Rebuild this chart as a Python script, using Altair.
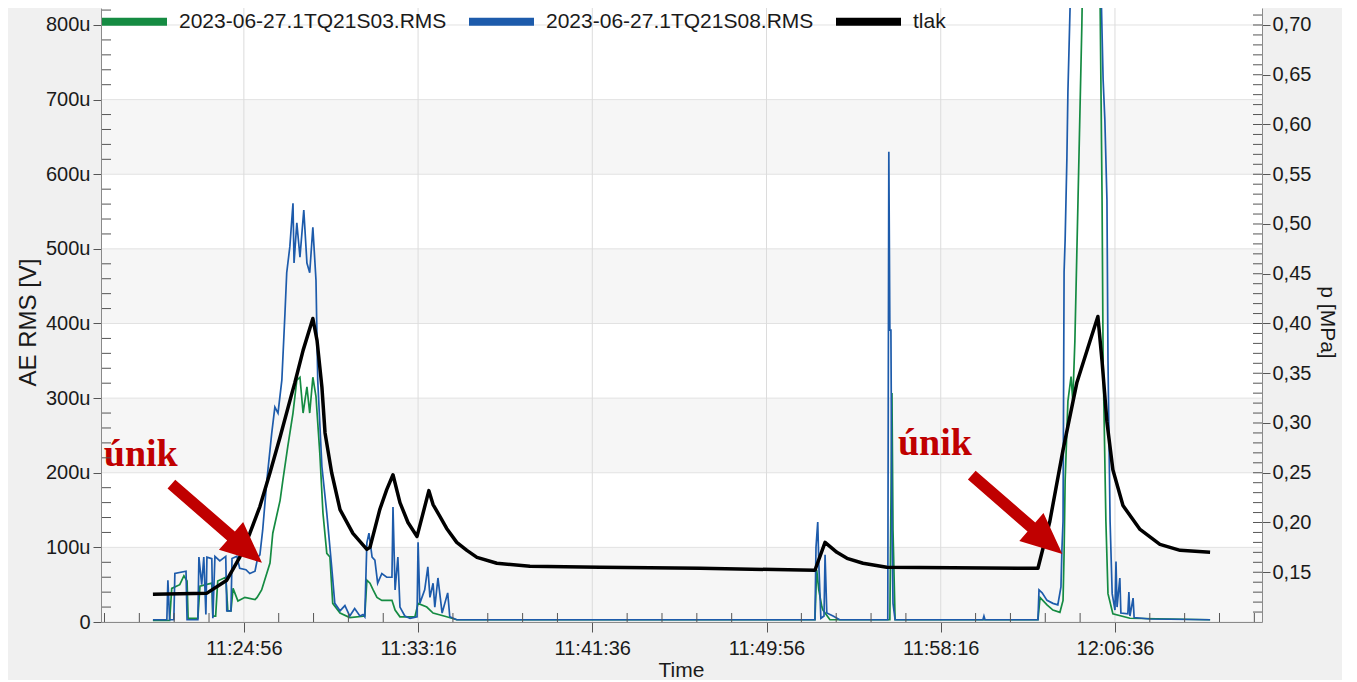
import altair as alt
import pandas as pd

# ---------------- data (times: minutes after 11:00, AE RMS in "u" = µV, pressure in MPa)
S03_NAME = "2023-06-27.1TQ21S03.RMS"
S08_NAME = "2023-06-27.1TQ21S08.RMS"
P_NAME = "tlak"

S03_t = [20.58, 21.39, 21.49, 21.87, 22.06, 22.21, 22.26, 22.73, 22.83, 23.40,
         23.45, 23.59, 23.69, 24.07, 24.17, 24.31, 24.41, 24.65, 24.98, 25.46,
         25.56, 25.79, 26.18, 26.32, 26.66, 26.80, 27.04, 27.28, 27.47, 27.61,
         27.76, 27.95, 28.09, 28.23, 28.38, 28.57, 28.71, 28.90, 29.05, 29.19,
         29.53, 30.00, 30.72, 30.82, 30.96, 31.11, 31.30, 31.54, 32.01, 32.16,
         32.40, 33.11, 33.26, 33.69, 33.98, 34.64, 35.12, 52.25, 52.34, 52.44,
         52.58, 52.63, 52.97, 55.84, 55.93, 55.98, 56.08, 62.92, 63.01, 63.35,
         63.63, 63.97, 64.11, 64.16, 64.21, 64.35, 64.50, 64.59, 64.69, 64.83,
         65.02, 65.41, 65.88, 65.98, 66.03, 66.17, 66.27, 66.50, 67.32, 71.15]
S03_v = [2, 2, 45, 50, 62, 55, 5, 5, 48, 52,
         8, 8, 55, 60, 15, 15, 45, 28, 33, 30,
         33, 43, 79, 119, 163, 190, 235, 280, 324, 328,
         280, 315, 280, 328, 302, 226, 146, 92, 87, 25,
         12, 6, 8, 56, 52, 43, 33, 29, 29, 16,
         7, 7, 25, 20, 12, 7, 3, 3, 70, 43,
         20, 16, 3, 3, 307, 123, 3, 3, 33, 23,
         16, 13, 29, 92, 189, 296, 329, 296, 377, 566,
         800, 1500, 850, 566, 350, 135, 38, 11, 5, 3]

S08_t = [20.58, 21.25, 21.30, 21.39, 21.59, 21.63, 22.16, 22.21, 22.73, 22.78,
         22.92, 23.02, 23.12, 23.16, 23.40, 23.45, 23.55, 23.79, 24.07, 24.12,
         24.31, 24.36, 24.60, 24.74, 25.03, 25.22, 25.46, 25.60, 25.70, 25.84,
         26.03, 26.27, 26.42, 26.56, 26.75, 26.90, 26.99, 27.13, 27.28, 27.33,
         27.47, 27.61, 27.80, 27.95, 28.09, 28.23, 28.38, 28.47, 28.67, 28.90,
         29.14, 29.29, 29.53, 29.77, 30.00, 30.24, 30.48, 30.63, 30.72, 30.82,
         30.91, 31.06, 31.20, 31.34, 31.54, 31.77, 32.01, 32.06, 32.16, 32.30,
         32.40, 32.64, 32.88, 33.21, 33.26, 33.35, 33.59, 33.74, 33.83, 33.98,
         34.07, 34.21, 34.41, 34.69, 34.79, 35.12, 41.96, 46.75, 52.25, 52.30,
         52.39, 52.44, 52.54, 52.68, 52.73, 52.82, 53.11, 53.44, 55.74, 55.79,
         55.84, 55.88, 55.93, 55.98, 56.08, 60.29, 60.33, 60.38, 62.92, 62.96,
         63.11, 63.35, 63.63, 63.87, 64.02, 64.07, 64.11, 64.16, 64.21, 64.30,
         64.35, 64.45, 65.17, 65.93, 66.03, 66.12, 66.22, 66.27, 66.36, 66.46,
         66.60, 66.65, 66.70, 66.84, 66.89, 67.22, 67.27, 67.32, 67.46, 67.51,
         68.27, 71.15]
S08_v = [3, 3, 56, 3, 3, 65, 68, 3, 3, 87,
         50, 87, 10, 87, 85, 5, 88, 82, 88, 15,
         15, 85, 88, 72, 70, 65, 68, 87, 90, 123,
         190, 253, 288, 280, 324, 414, 468, 503, 561, 481,
         535, 489, 552, 481, 468, 529, 458, 324, 208, 146,
         74, 25, 15, 22, 8, 18, 8, 10, 7, 106,
         119, 87, 83, 52, 65, 60, 60, 154, 43, 87,
         20, 8, 5, 7, 107, 25, 43, 74, 33, 52,
         20, 59, 12, 39, 7, 3, 3, 3, 3, 100,
         134, 79, 5, 8, 90, 12, 8, 3, 3, 630,
         391, 391, 123, 25, 3, 3, 8, 3, 3, 43,
         39, 29, 25, 23, 47, 100, 135, 469, 512, 620,
         711, 820, 1500, 850, 727, 673, 566, 350, 135, 38,
         16, 81, 20, 59, 12, 11, 40, 8, 32, 6,
         4, 3]

P_t = [20.58, 23.16, 24.12, 24.74, 25.22, 25.70, 26.18, 26.66, 27.23, 27.37,
       27.76, 28.23, 28.43, 28.66, 28.81, 29.14, 29.53, 30.15, 30.82, 30.96,
       31.44, 31.77, 32.06, 32.40, 32.78, 33.21, 33.78, 33.98, 34.31, 34.64,
       35.12, 35.60, 36.08, 37.04, 38.62, 41.96, 46.75, 52.25, 52.73, 53.30,
       53.78, 54.55, 55.69, 62.92, 63.49, 64.11, 64.78, 65.40, 65.79, 65.98,
       66.22, 66.50, 66.98, 67.80, 68.75, 69.71, 71.15]
P_v = [0.128, 0.129, 0.142, 0.165, 0.189, 0.216, 0.250, 0.286, 0.330, 0.340,
       0.373, 0.405, 0.383, 0.336, 0.290, 0.250, 0.213, 0.189, 0.173, 0.175,
       0.213, 0.233, 0.248, 0.220, 0.200, 0.186, 0.232, 0.218, 0.206, 0.194,
       0.180, 0.172, 0.165, 0.159, 0.156, 0.155, 0.154, 0.152, 0.180, 0.170,
       0.164, 0.159, 0.155, 0.154, 0.201, 0.273, 0.341, 0.382, 0.407, 0.362,
       0.301, 0.253, 0.217, 0.193, 0.178, 0.172, 0.170]

Y_TICKS = [0, 100, 200, 300, 400, 500, 600, 700, 800]
P_TICKS = [0.15, 0.2, 0.25, 0.3, 0.35, 0.4, 0.45, 0.5, 0.55, 0.6, 0.65, 0.7]
X_TICKS = ["11:24:56", "11:33:16", "11:41:36", "11:49:56", "11:58:16", "12:06:36"]
X_START, X_END = "11:18:06", "12:13:38"
BAND_LO = [0, 200, 400, 600]
BAND_HI = [100, 300, 500, 700]

ANN_TEXT = ["únik", "únik"]
ANN_T = [18.24, 56.22]
ANN_V = [209, 224]
ARROW_T = [23.64, 61.91]
ARROW_V = [132, 144]

# ---------------- helpers
DAY = "2023-06-27"
BASE = pd.Timestamp(DAY + " 11:00:00")


def mins_to_ts(mins):
    return [(BASE + pd.Timedelta(minutes=m)).round("s") for m in mins]


def dt(hms):
    h, m, s = (int(p) for p in hms.split(":"))
    return alt.DateTime(year=2023, month=6, date=27, hours=h, minutes=m, seconds=s)


W, H = 1161, 614
YMAX = 822.78
PMAX = 0.71708
FONT = "Liberation Sans"
TXT = "#1a1a1a"

df_ae = pd.concat([
    pd.DataFrame({"t": mins_to_ts(S03_t), "v": S03_v, "series": S03_NAME}),
    pd.DataFrame({"t": mins_to_ts(S08_t), "v": S08_v, "series": S08_NAME}),
])
df_p = pd.DataFrame({"t": mins_to_ts(P_t), "p": P_v, "series": P_NAME})
df_bands = pd.DataFrame({"lo": BAND_LO, "hi": BAND_HI})
df_yt = pd.DataFrame({"v": Y_TICKS})
df_xt = pd.DataFrame({"t": [pd.Timestamp(DAY + " " + s) for s in X_TICKS]})
df_txt = pd.DataFrame({"t": mins_to_ts(ANN_T), "v": ANN_V, "label": ANN_TEXT})
df_arr = pd.DataFrame({"t": mins_to_ts(ARROW_T), "v": ARROW_V})

# minor ticks
t0 = pd.Timestamp(DAY + " " + X_TICKS[0])
x_major = set(df_xt["t"])
minor_x = []
k = -4
while True:
    tt = t0 + pd.Timedelta(seconds=100 * k)
    if tt > pd.Timestamp(DAY + " " + X_END):
        break
    if tt >= pd.Timestamp(DAY + " " + X_START) and tt not in x_major:
        minor_x.append(tt)
    k += 1
df_mx = pd.DataFrame({"t": minor_x})
df_my = pd.DataFrame({"v": [v for v in range(20, 821, 20) if v % 100 != 0]})
df_mp = pd.DataFrame({"p": [round(0.10 + 0.01 * i, 2) for i in range(1, 62)]})

xsc = alt.Scale(domain=[dt(X_START), dt(X_END)])
ysc = alt.Scale(domain=[0, YMAX], nice=False, zero=False)
psc = alt.Scale(domain=[0.10, PMAX], nice=False, zero=False)
colsc = alt.Scale(domain=[S03_NAME, S08_NAME, P_NAME],
                  range=["#158b42", "#1d5bab", "#000000"])

X_AXIS = alt.Axis(
    values=[dt(s) for s in X_TICKS], format="%H:%M:%S", grid=False,
    tickSize=10, tickColor="#555555", domainColor="#8a8a8a",
    labelFont=FONT, labelFontSize=20, labelColor=TXT, labelPadding=6,
    labelFlush=False, labelOverlap=False, title="Time", titleFont=FONT,
    titleFontSize=21, titleFontWeight="normal", titleColor=TXT,
    titleX=580, titleY=48, titleAlign="center", titleBaseline="middle",
    zindex=1)


def X(field="t:T"):
    return alt.X(field, scale=xsc, axis=X_AXIS)


legend = alt.Legend(orient="none", legendX=-3, legendY=-23, direction="horizontal",
                    title=None, symbolType="stroke", symbolSize=4225,
                    symbolStrokeWidth=8, labelFont=FONT, labelFontSize=21,
                    labelColor=TXT, labelOffset=8, columnPadding=6, padding=0,
                    labelLimit=500)

bands = alt.Chart(df_bands).mark_rect(color="#f6f6f6").encode(
    x=alt.value(0), x2=alt.value(W),
    y=alt.Y("lo:Q", scale=ysc, axis=None), y2="hi:Q")

grid_y = alt.Chart(df_yt).mark_rule(color="#e2e2e2", strokeWidth=1).encode(
    y=alt.Y("v:Q", scale=ysc, axis=alt.Axis(
        values=Y_TICKS, labelExpr="datum.value == 0 ? '0' : datum.value + 'u'",
        grid=False, tickSize=8, tickColor="#555555", domainColor="#8a8a8a",
        labelFont=FONT, labelFontSize=20, labelColor=TXT, labelPadding=3,
        labelOverlap=False, title="AE RMS [V]", titleFont=FONT, titleFontSize=24,
        titleFontWeight="normal", titleColor=TXT, titleX=-73, titleY=314,
        titleAngle=270, titleAlign="center", titleBaseline="middle", zindex=1)))

grid_x = alt.Chart(df_xt).mark_rule(color="#dcdcdc", strokeWidth=1).encode(x=X())

ae = alt.Chart(df_ae).mark_line(strokeWidth=1.7, clip=True).encode(
    x=X(),
    y=alt.Y("v:Q", scale=ysc, axis=None),
    color=alt.Color("series:N", scale=colsc, legend=legend))

tlak = alt.Chart(df_p).mark_line(strokeWidth=3.5, clip=True, strokeJoin="round").encode(
    x=X(),
    y=alt.Y("p:Q", scale=psc, axis=alt.Axis(
        orient="right", values=P_TICKS,
        labelExpr="replace(format(datum.value, '.2f'), '.', ',')",
        grid=False, tickSize=8, tickColor="#555555", domainColor="#8a8a8a",
        labelFont=FONT, labelFontSize=20, labelColor=TXT, labelPadding=2,
        labelOverlap=False, title="p [MPa]", titleFont=FONT, titleFontSize=21,
        titleFontWeight="normal", titleColor=TXT, titleX=64, titleY=314,
        titleAngle=90, titleAlign="center", titleBaseline="middle", zindex=1)),
    color=alt.Color("series:N", scale=colsc, legend=legend))

ARROW_PATH = ("M0,-1L0.307,-0.317L0.098,-0.317L0.098,1L-0.098,1"
              "L-0.098,-0.317L-0.307,-0.317Z")
arrows = alt.Chart(df_arr).mark_point(
    shape=ARROW_PATH, size=14400, filled=True, color="#c00000", opacity=1,
    angle=131, strokeWidth=0).encode(
    x=X(),
    y=alt.Y("v:Q", scale=ysc, axis=None))

texts = alt.Chart(df_txt).mark_text(
    font="Liberation Serif", fontWeight="bold", fontSize=38, color="#c00000",
    align="left", baseline="alphabetic").encode(
    x=X(),
    y=alt.Y("v:Q", scale=ysc, axis=None),
    text="label:N")

minor_l = alt.Chart(df_my).mark_rule(color="#555555").encode(
    y=alt.Y("v:Q", scale=ysc, axis=None), x=alt.value(0), x2=alt.value(10))
minor_r = alt.Chart(df_mp).mark_rule(color="#555555").encode(
    y=alt.Y("p:Q", scale=psc, axis=None), x=alt.value(W - 9), x2=alt.value(W))
minor_b = alt.Chart(df_mx).mark_rule(color="#555555").encode(
    x=X(), y=alt.value(H - 9), y2=alt.value(H))

chart = alt.layer(
    bands, grid_y, grid_x, ae, tlak, arrows, texts, minor_l, minor_r, minor_b
).resolve_scale(y="independent").properties(
    width=W, height=H,
    padding={"left": 93, "top": 0, "right": 80, "bottom": 58},
    autosize=alt.AutoSizeParams(type="none"),
    background="#f0f0f0",
).configure_view(fill="white", stroke=None)

chart.save("out.html", embed_options={"renderer": "svg", "actions": False})
